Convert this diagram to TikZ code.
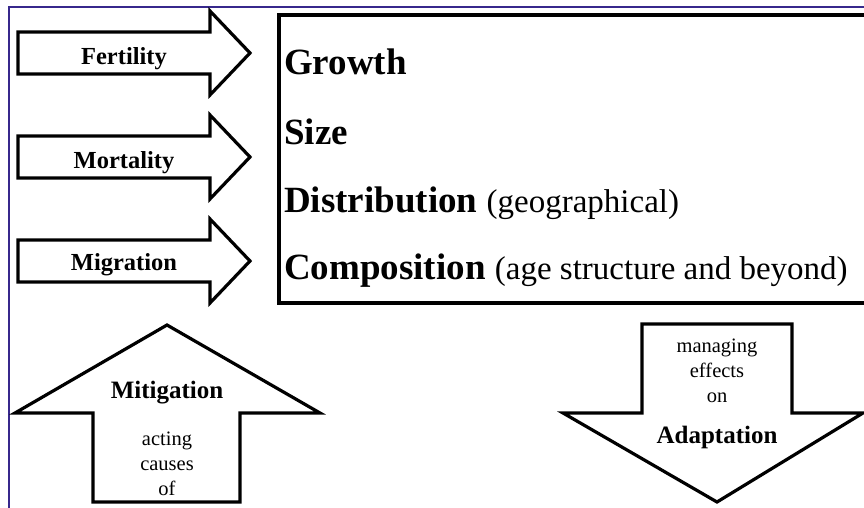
\documentclass[tikz,border=0pt]{standalone}
\usepackage{fontspec}
\setmainfont{Liberation Serif}
\definecolor{framecol}{RGB}{55,40,140}
\newcommand\myparenfont{\mdseries\fontsize{33}{36}\selectfont}
\begin{document}
\begin{tikzpicture}[x=1pt,y=-1pt,
  arrowshape/.style={draw=black, line width=3.2pt, line join=miter, fill=white},
  frameline/.style={draw=framecol, line width=2pt},
  mainbox/.style={draw=black, line width=3.6pt, fill=white, anchor=north west, inner sep=0pt},
  lbl/.style={font=\bfseries\fontsize{24.5}{28}\selectfont, anchor=base, inner sep=0pt},
  biglbl/.style={font=\bfseries\fontsize{25}{28}\selectfont, anchor=base, inner sep=0pt},
  small/.style={font=\fontsize{20.5}{24}\selectfont, anchor=base, inner sep=0pt},
  boxtxt/.style={anchor=base west, inner sep=0pt, font=\bfseries\fontsize{37}{40}\selectfont}]
\useasboundingbox (0,0) rectangle (864,508);
\fill[white] (0,0) rectangle (864,508);
% frame
\draw[frameline] (9,508) -- (9,7) -- (864,7);
% main box
\node[mainbox, minimum width=589pt, minimum height=288pt] (box) at (277,13) {};
\node[boxtxt] (growth) at (284,75) {Growth};
\node[boxtxt] (size) at (284,144) {Size};
\node[boxtxt] (distrib) at (284,212) {Distribution {\myparenfont (geographical)}};
\node[boxtxt] (compos) at (284,279) {Composition {\myparenfont (age structure and beyond)}};
% right arrows
\foreach \c in {53,157,261}{
  \draw[arrowshape] (18,\c-21) -- (210,\c-21) -- (210,\c-42) -- (250,\c) -- (210,\c+42) -- (210,\c+21) -- (18,\c+21) -- cycle;
}
\node[lbl] (fert) at (124,65) {Fertility};
\node[lbl] (mort) at (124,168) {Mortality};
\node[lbl] (migr) at (124,270) {Migration};
% up arrow
\draw[arrowshape] (93,502) -- (93,413) -- (15,413) -- (167,325) -- (320,413) -- (240,413) -- (240,502) -- cycle;
\node[biglbl] (mitig) at (167,398) {Mitigation};
\node[small] (acting) at (167,445) {acting};
\node[small] (causes) at (167,470) {causes};
\node[small] (of) at (167,495) {of};
% down arrow
\draw[arrowshape] (642,324) -- (792,324) -- (792,413) -- (863,413) -- (717,502) -- (563,413) -- (642,413) -- cycle;
\node[small] (managing) at (717,352) {managing};
\node[small] (effects) at (717,377) {effects};
\node[small] (on) at (717,402) {on};
\node[biglbl] (adapt) at (717,443) {Adaptation};
\end{tikzpicture}
\end{document}
